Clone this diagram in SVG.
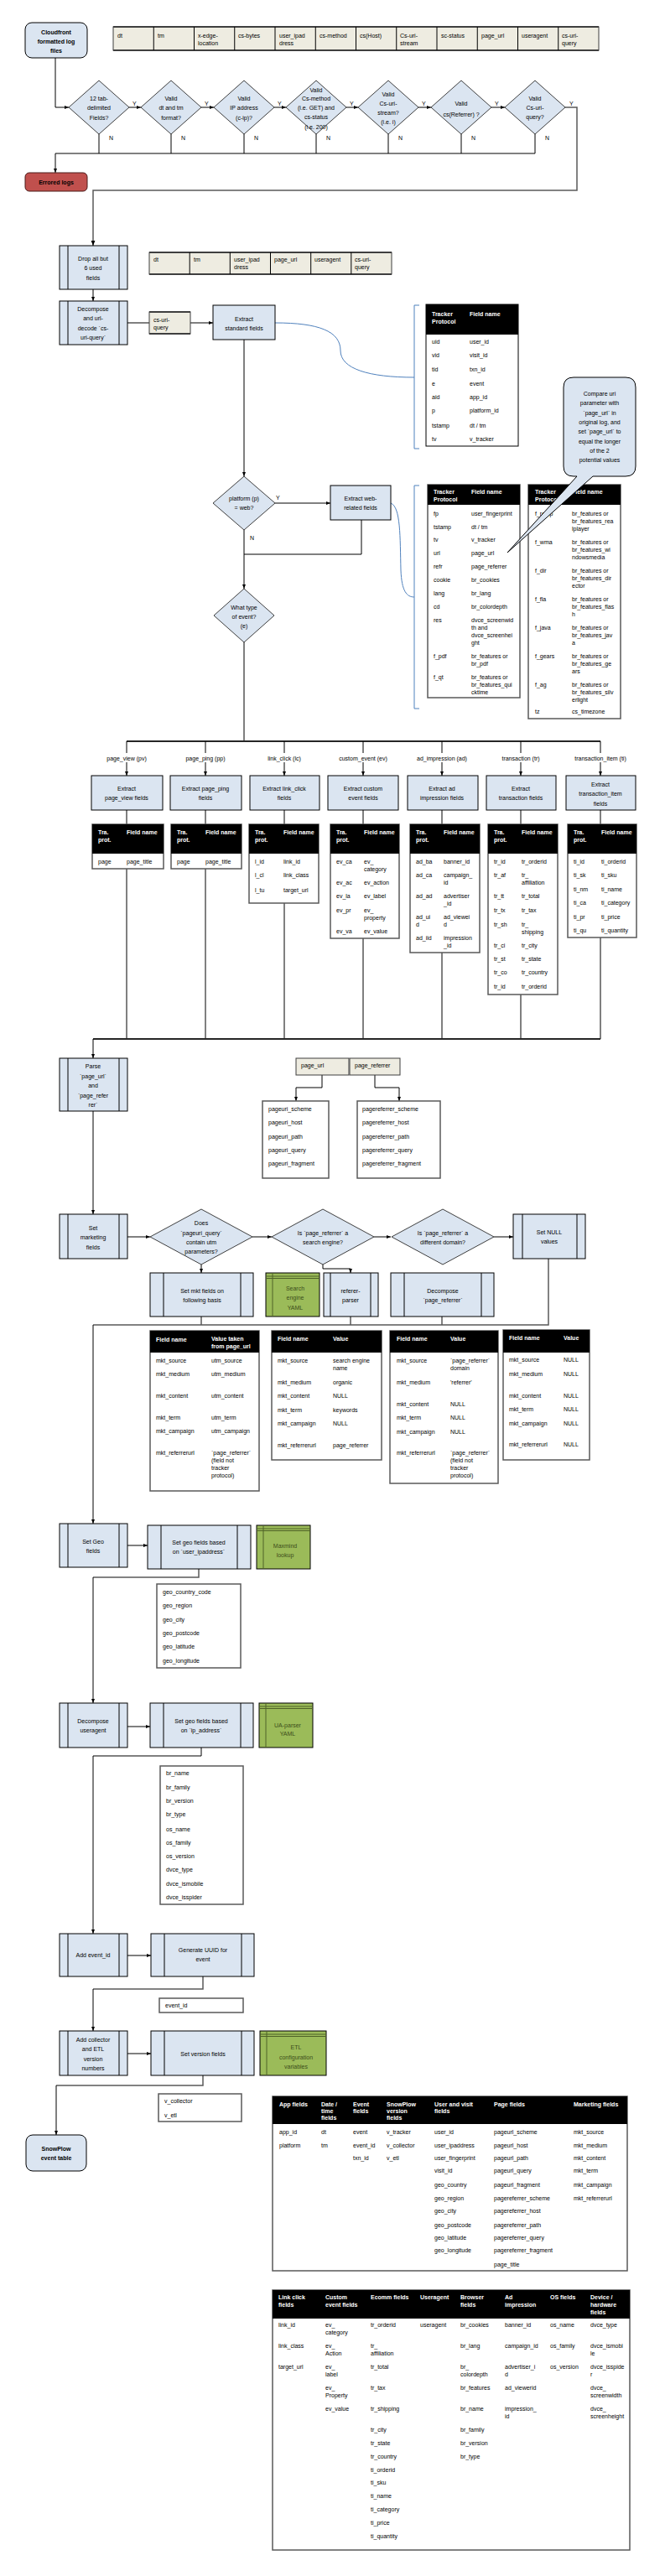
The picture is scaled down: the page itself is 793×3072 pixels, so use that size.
<svg xmlns="http://www.w3.org/2000/svg" width="793" height="3072" viewBox="0 0 793 3072">
<style>
.t{font-family:"Liberation Sans",Arial,sans-serif;font-size:7px;fill:#000;dominant-baseline:central}
.c{text-anchor:middle}
.b{font-weight:bold}
.w{fill:#fff;font-weight:bold}
.g{fill:#3c4d1a}
.box{fill:#dbe5f1;stroke:#000;stroke-width:1}
.dia{fill:#dbe5f1;stroke:#3f3f3f;stroke-width:1}
.side{stroke:#000;stroke-width:1}
.beige{fill:#eeece1;stroke:#3f3f3f;stroke-width:1}
.bord{stroke:#3f3f3f;stroke-width:2}
.grn{fill:#9bbb59;stroke:#000;stroke-width:1}
.stripe{stroke:#4f6228;stroke-width:1}
.tbl{fill:#fff;stroke:#000;stroke-width:1}
.tbl2{fill:#fff;stroke:#595959;stroke-width:1.5}
.hd{fill:#000}
.ln{fill:none;stroke:#000;stroke-width:1}
.lg{fill:none;stroke:#595959;stroke-width:1.5}
.bus{fill:none;stroke:#262626;stroke-width:2}
.blue{fill:none;stroke:#4f81bd;stroke-width:1}
</style>
<defs>
<marker id="ah" viewBox="0 0 10 10" refX="10" refY="5" markerWidth="5" markerHeight="5" orient="auto"><path d="M0,1 L10,5 L0,9 z" fill="#000"/></marker>
<marker id="ahg" viewBox="0 0 10 10" refX="10" refY="5" markerWidth="4" markerHeight="4" orient="auto"><path d="M0,1 L10,5 L0,9 z" fill="#000"/></marker>
</defs>
<rect width="793" height="3072" fill="#fff"/>

<g id="connectors">
<path class="ln" d="M66,69 V128 H82" marker-end="url(#ah)"/>
<path class="ln" d="M154,128 H168" marker-end="url(#ah)"/>
<path class="ln" d="M240,128 H255" marker-end="url(#ah)"/>
<path class="ln" d="M327,128 H341" marker-end="url(#ah)"/>
<path class="ln" d="M413,128 H427" marker-end="url(#ah)"/>
<path class="ln" d="M499,128 H514" marker-end="url(#ah)"/>
<path class="ln" d="M586,128 H602" marker-end="url(#ah)"/>
<path class="ln" d="M118,160 V183 M204,160 V183 M291,160 V183 M377,160 V183 M463,160 V183 M550,160 V183 M638,160 V183 M66,183 H638"/>
<path class="ln" d="M66,183 V206" marker-end="url(#ah)"/>
<path class="lg" d="M674,128 H688 V227 H111 V293" marker-end="url(#ahg)"/>
<path class="ln" d="M111,345 V359" marker-end="url(#ah)"/>
<path class="ln" d="M152,385 H178"/>
<path class="ln" d="M227,385 H254" marker-end="url(#ah)"/>
<path class="ln" d="M291,405 V568" marker-end="url(#ah)"/>
<path class="blue" d="M328,385 C380,385 406,395 406,418 C406,440 440,450 494,450"/>
<path class="blue" d="M500,364 H494 V535 H500"/>
<path class="ln" d="M328,600 H394" marker-end="url(#ah)"/>
<path class="ln" d="M291,632 V702" marker-end="url(#ah)"/>
<path class="ln" d="M431,620 V661 H291"/>
<path class="blue" d="M466,600 C478,605 477,640 478,680 C479,705 485,712 494,712"/>
<path class="blue" d="M500,579 H494 V845 H500"/>
<path class="ln" d="M291,766 V884"/>
<path class="bus" d="M151,884 H716"/>
<path class="ln" d="M151,884 V898 M245,884 V898 M339,884 V898 M433,884 V898 M527,884 V898 M621,884 V898 M716,884 V898"/>
<path class="ln" d="M151,909 V925" marker-end="url(#ah)"/>
<path class="ln" d="M245,909 V925" marker-end="url(#ah)"/>
<path class="ln" d="M339,909 V925" marker-end="url(#ah)"/>
<path class="ln" d="M433,909 V925" marker-end="url(#ah)"/>
<path class="ln" d="M527,909 V925" marker-end="url(#ah)"/>
<path class="ln" d="M621,909 V925" marker-end="url(#ah)"/>
<path class="ln" d="M716,909 V925" marker-end="url(#ah)"/>
<path class="ln" d="M151,966 V983 M245,966 V983 M339,966 V983 M433,966 V983 M527,966 V983 M621,966 V983 M716,966 V983"/>
<path class="ln" d="M151,1036 V1239 M245,1036 V1239 M339,1077 V1239 M433,1119 V1239 M527,1136 V1239 M621,1186 V1239 M716,1118 V1239"/>
<path class="bus" d="M111,1239 H716"/>
<path class="ln" d="M111,1239 V1262" marker-end="url(#ah)"/>
<path class="ln" d="M384,1282 V1297 H353 V1313" marker-end="url(#ah)"/>
<path class="ln" d="M447,1282 V1297 H476 V1313" marker-end="url(#ah)"/>
<path class="ln" d="M111,1325 V1448" marker-end="url(#ah)"/>
<path class="ln" d="M152,1475 H179" marker-end="url(#ah)"/>
<path class="ln" d="M301,1475 H324" marker-end="url(#ah)"/>
<path class="ln" d="M446,1475 H466" marker-end="url(#ah)"/>
<path class="ln" d="M589,1475 H612" marker-end="url(#ah)"/>
<path class="ln" d="M240,1508 V1518" marker-end="url(#ah)"/>
<path class="ln" d="M385,1508 V1513 H418 V1518" marker-end="url(#ah)"/>
<path class="lg" d="M240,1570 V1580 M418,1570 V1580 M527,1570 V1580 M654,1501 V1580 H111"/>
<path class="ln" d="M111,1580 V1817" marker-end="url(#ah)"/>
<path class="ln" d="M152,1843 H176" marker-end="url(#ah)"/>
<path class="lg" d="M237,1871 V1881 H111"/>
<path class="ln" d="M111,1881 V2031" marker-end="url(#ah)"/>
<path class="ln" d="M152,2059 H179" marker-end="url(#ah)"/>
<path class="ln" d="M240,2084 V2094 H111 V2306" marker-end="url(#ah)"/>
<path class="ln" d="M152,2332 H180" marker-end="url(#ah)"/>
<path class="lg" d="M242,2357 V2372 H111"/>
<path class="ln" d="M111,2372 V2422" marker-end="url(#ah)"/>
<path class="ln" d="M152,2449 H180" marker-end="url(#ah)"/>
<path class="lg" d="M242,2475 V2487 H67"/>
<path class="ln" d="M67,2487 V2546" marker-end="url(#ah)"/>
</g>

<g id="labels">
<text class="t" x="158" y="123">Y</text>
<text class="t" x="244" y="123">Y</text>
<text class="t" x="331" y="123">Y</text>
<text class="t" x="417" y="123">Y</text>
<text class="t" x="503" y="123">Y</text>
<text class="t" x="590" y="123">Y</text>
<text class="t" x="679" y="123">Y</text>
<text class="t" x="130" y="164">N</text>
<text class="t" x="216" y="164">N</text>
<text class="t" x="303" y="164">N</text>
<text class="t" x="389" y="164">N</text>
<text class="t" x="475" y="164">N</text>
<text class="t" x="562" y="164">N</text>
<text class="t" x="650" y="164">N</text>
<text class="t" x="329" y="593">Y</text>
<text class="t" x="298" y="641">N</text>
<text class="t c" x="151" y="904">page_view  (pv)</text>
<text class="t c" x="245" y="904">page_ping  (pp)</text>
<text class="t c" x="339" y="904">link_click  (lc)</text>
<text class="t c" x="433" y="904">custom_event  (ev)</text>
<text class="t c" x="527" y="904">ad_impression  (ad)</text>
<text class="t c" x="621" y="904">transaction  (tr)</text>
<text class="t c" x="716" y="904">transaction_item  (ti)</text>
</g>

<g id="cloudfront">
<rect class="box" x="30" y="27" width="74" height="42" rx="8"/>
<text class="t c b" x="67" y="38">Cloudfront</text>
<text class="t c b" x="67" y="49">formatted  log</text>
<text class="t c b" x="67" y="60">files</text>
</g>

<g id="raw-fields">
<rect class="beige" x="135" y="32" width="579" height="28"/>
<path class="bord" d="M135,32 H714 M135,60 H714"/>
<path class="ln" d="M183.25,32 V60 M231.5,32 V60 M279.75,32 V60 M328,32 V60 M376.25,32 V60 M424.5,32 V60 M472.75,32 V60 M521,32 V60 M569.25,32 V60 M617.5,32 V60 M665.75,32 V60"/>
<text class="t" x="140" y="42">dt</text>
<text class="t" x="188" y="42">tm</text>
<text class="t" x="236" y="42">x-edge-</text><text class="t" x="236" y="51">location</text>
<text class="t" x="284" y="42">cs-bytes</text>
<text class="t" x="333" y="42">user_ipad</text><text class="t" x="333" y="51">dress</text>
<text class="t" x="381" y="42">cs-method</text>
<text class="t" x="429" y="42">cs(Host)</text>
<text class="t" x="477" y="42">Cs-uri-</text><text class="t" x="477" y="51">stream</text>
<text class="t" x="526" y="42">sc-status</text>
<text class="t" x="574" y="42">page_url</text>
<text class="t" x="622" y="42">useragent</text>
<text class="t" x="670" y="42">cs-uri-</text><text class="t" x="670" y="51">query</text>
</g>

<g id="check-tab">
<polygon class="dia" points="118,96 154,128 118,160 82,128"/>
<text class="t c" x="118" y="117">12 tab-</text><text class="t c" x="118" y="128">delimited</text><text class="t c" x="118" y="140">Fields?</text>
</g>
<g id="check-dt">
<polygon class="dia" points="204,96 240,128 204,160 168,128"/>
<text class="t c" x="204" y="117">Valid</text><text class="t c" x="204" y="128">dt and tm</text><text class="t c" x="204" y="140">format?</text>
</g>
<g id="check-ip">
<polygon class="dia" points="291,96 327,128 291,160 255,128"/>
<text class="t c" x="291" y="117">Valid</text><text class="t c" x="291" y="128">IP address</text><text class="t c" x="291" y="140">(c-ip)?</text>
</g>
<g id="check-method">
<polygon class="dia" points="377,96 413,128 377,160 341,128"/>
<text class="t c" x="377" y="107">Valid</text><text class="t c" x="377" y="117">Cs-method</text><text class="t c" x="377" y="128">(i.e. GET) and</text><text class="t c" x="377" y="139">cs-status</text><text class="t c" x="377" y="151">(i.e. 200)</text>
</g>
<g id="check-stream">
<polygon class="dia" points="463,96 499,128 463,160 427,128"/>
<text class="t c" x="463" y="112">Valid</text><text class="t c" x="463" y="123">Cs-uri-</text><text class="t c" x="463" y="134">stream?</text><text class="t c" x="463" y="145">(i.e. i)</text>
</g>
<g id="check-referrer">
<polygon class="dia" points="550,96 586,128 550,160 514,128"/>
<text class="t c" x="550" y="123">Valid</text><text class="t c" x="550" y="136">cs(Referrer)  ?</text>
</g>
<g id="check-query">
<polygon class="dia" points="638,96 674,128 638,160 602,128"/>
<text class="t c" x="638" y="117">Valid</text><text class="t c" x="638" y="128">Cs-uri-</text><text class="t c" x="638" y="139">query?</text>
</g>

<g id="errored">
<rect x="30" y="206" width="74" height="22" rx="5" fill="#c0504d" stroke="#4a1a19"/>
<text class="t c b" x="67" y="217">Errored logs</text>
</g>

<g id="drop">
<rect class="box" x="71" y="293" width="81" height="52"/>
<path class="side" d="M81,293 V345 M142,293 V345"/>
<text class="t c" x="111" y="308">Drop all  but</text><text class="t c" x="111" y="319">6 used</text><text class="t c" x="111" y="331">fields</text>
</g>
<g id="used-fields">
<rect class="beige" x="178" y="301" width="289" height="26"/>
<path class="bord" d="M178,301 H467 M178,327 H467"/>
<path class="ln" d="M226.2,301 V327 M274.3,301 V327 M322.5,301 V327 M370.7,301 V327 M418.8,301 V327"/>
<text class="t" x="183" y="309">dt</text>
<text class="t" x="231" y="309">tm</text>
<text class="t" x="279" y="309">user_ipad</text><text class="t" x="279" y="318">dress</text>
<text class="t" x="327" y="309">page_url</text>
<text class="t" x="375" y="309">useragent</text>
<text class="t" x="423" y="309">cs-uri-</text><text class="t" x="423" y="318">query</text>
</g>

<g id="decompose">
<rect class="box" x="71" y="359" width="81" height="52"/>
<path class="side" d="M81,359 V411 M142,359 V411"/>
<text class="t c" x="111" y="368">Decompose</text><text class="t c" x="111" y="379">and url-</text><text class="t c" x="111" y="391">decode `cs-</text><text class="t c" x="111" y="402">uri-query`</text>
</g>
<g id="csuriquery">
<rect class="beige" x="178" y="372" width="49" height="26"/>
<path class="bord" d="M178,372 H227 M178,398 H227"/>
<text class="t" x="183" y="381">cs-uri-</text><text class="t" x="183" y="390">query</text>
</g>
<g id="extract-standard">
<rect class="box" x="254" y="364" width="74" height="41"/>
<text class="t c" x="291" y="380">Extract</text><text class="t c" x="291" y="391">standard fields</text>
</g>

<g id="std-table">
<rect class="tbl" x="508" y="363" width="110" height="169"/>
<rect class="hd" x="508" y="363" width="110" height="36"/>
<text class="t w" x="515" y="374">Tracker</text><text class="t w" x="515" y="383">Protocol</text><text class="t w" x="560" y="374">Field name</text>
<text class="t" x="515" y="407">uid</text><text class="t" x="560" y="407">user_id</text>
<text class="t" x="515" y="423">vid</text><text class="t" x="560" y="423">visit_id</text>
<text class="t" x="515" y="440">tid</text><text class="t" x="560" y="440">txn_id</text>
<text class="t" x="515" y="457">e</text><text class="t" x="560" y="457">event</text>
<text class="t" x="515" y="473">aid</text><text class="t" x="560" y="473">app_id</text>
<text class="t" x="515" y="489">p</text><text class="t" x="560" y="489">platform_id</text>
<text class="t" x="515" y="507">tstamp</text><text class="t" x="560" y="507">dt / tm</text>
<text class="t" x="515" y="523">tv</text><text class="t" x="560" y="523">v_tracker</text>
</g>

<g id="platform">
<polygon class="dia" points="291,568 328,600 291,632 254,600"/>
<text class="t c" x="291" y="594">platform  (p)</text><text class="t c" x="291" y="605">= web?</text>
</g>
<g id="extract-web">
<rect class="box" x="394" y="579" width="72" height="41"/>
<text class="t c" x="430" y="594">Extract  web-</text><text class="t c" x="430" y="605">related  fields</text>
</g>
<g id="event-type">
<polygon class="dia" points="291,702 327,734 291,766 255,734"/>
<text class="t c" x="291" y="724">What type</text><text class="t c" x="291" y="735">of event?</text><text class="t c" x="291" y="746">(e)</text>
</g>

<g id="web-table-1">
<rect class="tbl2" x="510" y="578" width="110" height="254"/>
<rect class="hd" x="510" y="578" width="110" height="24"/>
<text class="t w" x="517" y="586">Tracker</text><text class="t w" x="517" y="595">Protocol</text><text class="t w" x="562" y="586">Field name</text>
<text class="t" x="517" y="612">fp</text><text class="t" x="562" y="612">user_fingerprint</text>
<text class="t" x="517" y="628">tstamp</text><text class="t" x="562" y="628">dt / tm</text>
<text class="t" x="517" y="643">tv</text><text class="t" x="562" y="643">v_tracker</text>
<text class="t" x="517" y="659">url</text><text class="t" x="562" y="659">page_url</text>
<text class="t" x="517" y="675">refr</text><text class="t" x="562" y="675">page_referrer</text>
<text class="t" x="517" y="691">cookie</text><text class="t" x="562" y="691">br_cookies</text>
<text class="t" x="517" y="707">lang</text><text class="t" x="562" y="707">br_lang</text>
<text class="t" x="517" y="723">cd</text><text class="t" x="562" y="723">br_colordepth</text>
<text class="t" x="517" y="739">res</text><text class="t" x="562" y="739">dvce_screenwid</text><text class="t" x="562" y="748">th and</text><text class="t" x="562" y="757">dvce_screenhei</text><text class="t" x="562" y="766">ght</text>
<text class="t" x="517" y="782">f_pdf</text><text class="t" x="562" y="782">br_features or</text><text class="t" x="562" y="791">br_pdf</text>
<text class="t" x="517" y="807">f_qt</text><text class="t" x="562" y="807">br_features or</text><text class="t" x="562" y="816">br_features_qui</text><text class="t" x="562" y="825">cktime</text>
</g>

<g id="web-table-2">
<rect class="tbl2" x="630" y="578" width="110" height="279"/>
<rect class="hd" x="630" y="578" width="110" height="24"/>
<text class="t w" x="638" y="586">Tracker</text><text class="t w" x="638" y="595">Protocol</text><text class="t w" x="682" y="586">Field name</text>
<text class="t" x="638" y="612">f_realp</text><text class="t" x="682" y="612">br_features or</text><text class="t" x="682" y="621">br_features_rea</text><text class="t" x="682" y="630">lplayer</text>
<text class="t" x="638" y="646">f_wma</text><text class="t" x="682" y="646">br_features or</text><text class="t" x="682" y="655">br_features_wi</text><text class="t" x="682" y="664">ndowsmedia</text>
<text class="t" x="638" y="680">f_dir</text><text class="t" x="682" y="680">br_features or</text><text class="t" x="682" y="689">br_features_dir</text><text class="t" x="682" y="698">ector</text>
<text class="t" x="638" y="714">f_fla</text><text class="t" x="682" y="714">br_features or</text><text class="t" x="682" y="723">br_features_flas</text><text class="t" x="682" y="732">h</text>
<text class="t" x="638" y="748">f_java</text><text class="t" x="682" y="748">br_features or</text><text class="t" x="682" y="757">br_features_jav</text><text class="t" x="682" y="766">a</text>
<text class="t" x="638" y="782">f_gears</text><text class="t" x="682" y="782">br_features or</text><text class="t" x="682" y="791">br_features_ge</text><text class="t" x="682" y="800">ars</text>
<text class="t" x="638" y="816">f_ag</text><text class="t" x="682" y="816">br_features or</text><text class="t" x="682" y="825">br_features_silv</text><text class="t" x="682" y="834">erlight</text>
<text class="t" x="638" y="848">tz</text><text class="t" x="682" y="848">cs_timezone</text>
</g>

<g id="callout">
<path class="box" d="M684,450 H746 Q758,450 758,462 V556 Q758,568 746,568 H707 L605,659 L688,568 H684 Q672,568 672,556 V462 Q672,450 684,450 Z"/>
<text class="t c" x="715" y="469">Compare uri</text>
<text class="t c" x="715" y="480">parameter  with</text>
<text class="t c" x="715" y="492">`page_url`  in</text>
<text class="t c" x="715" y="503">original log, and</text>
<text class="t c" x="715" y="514">set `page_url` to</text>
<text class="t c" x="715" y="526">equal the longer</text>
<text class="t c" x="715" y="537">of the 2</text>
<text class="t c" x="715" y="548">potential values</text>
</g>

<g id="extract-pv">
<rect class="box" x="109" y="925" width="85" height="41"/>
<text class="t c" x="151" y="940">Extract</text><text class="t c" x="151" y="951">page_view  fields</text>
</g>
<g id="extract-pp">
<rect class="box" x="203" y="925" width="85" height="41"/>
<text class="t c" x="245" y="940">Extract page_ping</text><text class="t c" x="245" y="951">fields</text>
</g>
<g id="extract-lc">
<rect class="box" x="298" y="925" width="83" height="41"/>
<text class="t c" x="339" y="940">Extract link_click</text><text class="t c" x="339" y="951">fields</text>
</g>
<g id="extract-ev">
<rect class="box" x="391" y="925" width="84" height="41"/>
<text class="t c" x="433" y="940">Extract custom</text><text class="t c" x="433" y="951">event fields</text>
</g>
<g id="extract-ad">
<rect class="box" x="486" y="925" width="84" height="41"/>
<text class="t c" x="527" y="940">Extract ad</text><text class="t c" x="527" y="951">impression fields</text>
</g>
<g id="extract-tr">
<rect class="box" x="580" y="925" width="83" height="41"/>
<text class="t c" x="621" y="940">Extract</text><text class="t c" x="621" y="951">transaction fields</text>
</g>
<g id="extract-ti">
<rect class="box" x="675" y="925" width="83" height="41"/>
<text class="t c" x="716" y="935">Extract</text><text class="t c" x="716" y="946">transaction_item</text><text class="t c" x="716" y="958">fields</text>
</g>

<g id="pv-table">
<rect class="tbl2" x="110" y="983" width="85" height="53"/>
<rect class="hd" x="110" y="983" width="85" height="35"/>
<text class="t w" x="117" y="992">Tra.</text><text class="t w" x="117" y="1001">prot.</text><text class="t w" x="151" y="992">Field name</text>
<text class="t" x="117" y="1027">page</text><text class="t" x="151" y="1027">page_title</text>
</g>
<g id="pp-table">
<rect class="tbl2" x="204" y="983" width="84" height="53"/>
<rect class="hd" x="204" y="983" width="84" height="35"/>
<text class="t w" x="211" y="992">Tra.</text><text class="t w" x="211" y="1001">prot.</text><text class="t w" x="245" y="992">Field name</text>
<text class="t" x="211" y="1027">page</text><text class="t" x="245" y="1027">page_title</text>
</g>
<g id="lc-table">
<rect class="tbl2" x="297" y="983" width="83" height="94"/>
<rect class="hd" x="297" y="983" width="83" height="35"/>
<text class="t w" x="304" y="992">Tra.</text><text class="t w" x="304" y="1001">prot.</text><text class="t w" x="338" y="992">Field name</text>
<text class="t" x="304" y="1027">l_id</text><text class="t" x="338" y="1027">link_id</text>
<text class="t" x="304" y="1043">l_cl</text><text class="t" x="338" y="1043">link_class</text>
<text class="t" x="304" y="1061">l_tu</text><text class="t" x="338" y="1061">target_url</text>
</g>
<g id="ev-table">
<rect class="tbl2" x="394" y="983" width="82" height="136"/>
<rect class="hd" x="394" y="983" width="82" height="35"/>
<text class="t w" x="401" y="992">Tra.</text><text class="t w" x="401" y="1001">prot.</text><text class="t w" x="434" y="992">Field name</text>
<text class="t" x="401" y="1027">ev_ca</text><text class="t" x="434" y="1027">ev_</text><text class="t" x="434" y="1036">category</text>
<text class="t" x="401" y="1052">ev_ac</text><text class="t" x="434" y="1052">ev_action</text>
<text class="t" x="401" y="1068">ev_la</text><text class="t" x="434" y="1068">ev_label</text>
<text class="t" x="401" y="1085">ev_pr</text><text class="t" x="434" y="1085">ev_</text><text class="t" x="434" y="1094">property</text>
<text class="t" x="401" y="1110">ev_va</text><text class="t" x="434" y="1110">ev_value</text>
</g>
<g id="ad-table">
<rect class="tbl2" x="489" y="983" width="83" height="153"/>
<rect class="hd" x="489" y="983" width="83" height="35"/>
<text class="t w" x="496" y="992">Tra.</text><text class="t w" x="496" y="1001">prot.</text><text class="t w" x="529" y="992">Field name</text>
<text class="t" x="496" y="1027">ad_ba</text><text class="t" x="529" y="1027">banner_id</text>
<text class="t" x="496" y="1043">ad_ca</text><text class="t" x="529" y="1043">campaign_</text><text class="t" x="529" y="1052">id</text>
<text class="t" x="496" y="1068">ad_ad</text><text class="t" x="529" y="1068">advertiser</text><text class="t" x="529" y="1077">_id</text>
<text class="t" x="496" y="1093">ad_ui</text><text class="t" x="496" y="1102">d</text><text class="t" x="529" y="1093">ad_viewei</text><text class="t" x="529" y="1102">d</text>
<text class="t" x="496" y="1118">ad_iid</text><text class="t" x="529" y="1118">impression</text><text class="t" x="529" y="1127">_id</text>
</g>
<g id="tr-table">
<rect class="tbl2" x="582" y="983" width="83" height="203"/>
<rect class="hd" x="582" y="983" width="83" height="35"/>
<text class="t w" x="589" y="992">Tra.</text><text class="t w" x="589" y="1001">prot.</text><text class="t w" x="622" y="992">Field name</text>
<text class="t" x="589" y="1027">tr_id</text><text class="t" x="622" y="1027">tr_orderid</text>
<text class="t" x="589" y="1043">tr_af</text><text class="t" x="622" y="1043">tr_</text><text class="t" x="622" y="1052">affiliation</text>
<text class="t" x="589" y="1068">tr_tt</text><text class="t" x="622" y="1068">tr_total</text>
<text class="t" x="589" y="1085">tr_tx</text><text class="t" x="622" y="1085">tr_tax</text>
<text class="t" x="589" y="1102">tr_sh</text><text class="t" x="622" y="1102">tr_</text><text class="t" x="622" y="1111">shipping</text>
<text class="t" x="589" y="1127">tr_ci</text><text class="t" x="622" y="1127">tr_city</text>
<text class="t" x="589" y="1143">tr_st</text><text class="t" x="622" y="1143">tr_state</text>
<text class="t" x="589" y="1159">tr_co</text><text class="t" x="622" y="1159">tr_country</text>
<text class="t" x="589" y="1176">tr_id</text><text class="t" x="622" y="1176">tr_orderid</text>
</g>
<g id="ti-table">
<rect class="tbl2" x="677" y="983" width="82" height="135"/>
<rect class="hd" x="677" y="983" width="82" height="35"/>
<text class="t w" x="684" y="992">Tra.</text><text class="t w" x="684" y="1001">prot.</text><text class="t w" x="717" y="992">Field name</text>
<text class="t" x="684" y="1027">ti_id</text><text class="t" x="717" y="1027">ti_orderid</text>
<text class="t" x="684" y="1043">ti_sk</text><text class="t" x="717" y="1043">ti_sku</text>
<text class="t" x="684" y="1060">ti_nm</text><text class="t" x="717" y="1060">ti_name</text>
<text class="t" x="684" y="1076">ti_ca</text><text class="t" x="717" y="1076">ti_category</text>
<text class="t" x="684" y="1093">ti_pr</text><text class="t" x="717" y="1093">ti_price</text>
<text class="t" x="684" y="1109">ti_qu</text><text class="t" x="717" y="1109">ti_quantity</text>
</g>

<g id="parse">
<rect class="box" x="71" y="1262" width="81" height="63"/>
<path class="side" d="M81,1262 V1325 M142,1262 V1325"/>
<text class="t c" x="111" y="1271">Parse</text><text class="t c" x="111" y="1283">`page_url`</text><text class="t c" x="111" y="1294">and</text><text class="t c" x="111" y="1306">`page_refer</text><text class="t c" x="111" y="1317">rer`</text>
</g>
<g id="page-url-field">
<rect class="beige" x="353" y="1262" width="63" height="20"/>
<text class="t" x="359" y="1270">page_url</text>
</g>
<g id="page-referrer-field">
<rect class="beige" x="417" y="1262" width="60" height="20"/>
<text class="t" x="423" y="1270">page_referrer</text>
</g>
<g id="pageurl-list">
<rect class="tbl2" x="313" y="1313" width="79" height="92"/>
<text class="t" x="320" y="1322">pageuri_scheme</text>
<text class="t" x="320" y="1338">pageuri_host</text>
<text class="t" x="320" y="1355">pageuri_path</text>
<text class="t" x="320" y="1371">pageuri_query</text>
<text class="t" x="320" y="1387">pageuri_fragment</text>
</g>
<g id="pagereferrer-list">
<rect class="tbl2" x="426" y="1313" width="99" height="92"/>
<text class="t" x="432" y="1322">pagereferrer_scheme</text>
<text class="t" x="432" y="1338">pagereferrer_host</text>
<text class="t" x="432" y="1355">pagereferrer_path</text>
<text class="t" x="432" y="1371">pagereferrer_query</text>
<text class="t" x="432" y="1387">pagereferrer_fragment</text>
</g>

<g id="set-marketing">
<rect class="box" x="71" y="1448" width="81" height="53"/>
<path class="side" d="M81,1448 V1501 M142,1448 V1501"/>
<text class="t c" x="111" y="1464">Set</text><text class="t c" x="111" y="1475">marketing</text><text class="t c" x="111" y="1487">fields</text>
</g>
<g id="utm-check">
<polygon class="dia" points="240,1442 301,1475 240,1508 179,1475"/>
<text class="t c" x="240" y="1458">Does</text><text class="t c" x="240" y="1470">`pageuri_query`</text><text class="t c" x="240" y="1481">contain utm</text><text class="t c" x="240" y="1492">parameters?</text>
</g>
<g id="search-check">
<polygon class="dia" points="385,1442 446,1475 385,1508 324,1475"/>
<text class="t c" x="385" y="1470">Is `page_referrer`  a</text><text class="t c" x="385" y="1481">search engine?</text>
</g>
<g id="domain-check">
<polygon class="dia" points="528,1442 589,1475 528,1508 467,1475"/>
<text class="t c" x="528" y="1470">Is `page_referrer`  a</text><text class="t c" x="528" y="1481">different  domain?</text>
</g>
<g id="set-null">
<rect class="box" x="612" y="1448" width="86" height="53"/>
<path class="side" d="M623,1448 V1501 M688,1448 V1501"/>
<text class="t c" x="655" y="1469">Set NULL</text><text class="t c" x="655" y="1480">values</text>
</g>
<g id="set-mkt">
<rect class="box" x="179" y="1518" width="123" height="52"/>
<path class="side" d="M195,1518 V1570 M287,1518 V1570"/>
<text class="t c" x="241" y="1539">Set mkt  fields on</text><text class="t c" x="241" y="1550">following basis</text>
</g>
<g id="search-yaml">
<rect class="grn" x="317" y="1518" width="64" height="52"/>
<path class="stripe" d="M317,1522 H381 M317,1524.5 H381 M325,1518 V1570"/>
<text class="t c g" x="352" y="1536">Search</text><text class="t c g" x="352" y="1547">engine</text><text class="t c g" x="352" y="1559">YAML</text>
</g>
<g id="referer-parser">
<rect class="box" x="386" y="1518" width="65" height="52"/>
<path class="side" d="M394,1518 V1570 M442,1518 V1570"/>
<text class="t c" x="418" y="1539">referer-</text><text class="t c" x="418" y="1550">parser</text>
</g>
<g id="decompose-referrer">
<rect class="box" x="466" y="1518" width="123" height="52"/>
<path class="side" d="M482,1518 V1570 M574,1518 V1570"/>
<text class="t c" x="528" y="1539">Decompose</text><text class="t c" x="528" y="1550">`page_referrer`</text>
</g>

<g id="mkt-table-utm">
<rect class="tbl2" x="179" y="1587" width="130" height="191"/>
<rect class="hd" x="179" y="1587" width="130" height="26"/>
<text class="t w" x="186" y="1597">Field name</text><text class="t w" x="252" y="1596">Value taken</text><text class="t w" x="252" y="1605">from page_url</text>
<text class="t" x="186" y="1622">mkt_source</text><text class="t" x="252" y="1622">utm_source</text>
<text class="t" x="186" y="1638">mkt_medium</text><text class="t" x="252" y="1638">utm_medium</text>
<text class="t" x="186" y="1664">mkt_content</text><text class="t" x="252" y="1664">utm_content</text>
<text class="t" x="186" y="1690">mkt_term</text><text class="t" x="252" y="1690">utm_term</text>
<text class="t" x="186" y="1706">mkt_campaign</text><text class="t" x="252" y="1706">utm_campaign</text>
<text class="t" x="186" y="1732">mkt_referrerurl</text><text class="t" x="252" y="1732">`page_referrer`</text><text class="t" x="252" y="1741">(field not</text><text class="t" x="252" y="1750">tracker</text><text class="t" x="252" y="1759">protocol)</text>
</g>
<g id="mkt-table-search">
<rect class="tbl2" x="324" y="1587" width="131" height="154"/>
<rect class="hd" x="324" y="1587" width="131" height="26"/>
<text class="t w" x="331" y="1596">Field name</text><text class="t w" x="397" y="1596">Value</text>
<text class="t" x="331" y="1622">mkt_source</text><text class="t" x="397" y="1622">search engine</text><text class="t" x="397" y="1631">name</text>
<text class="t" x="331" y="1648">mkt_medium</text><text class="t" x="397" y="1648">organic</text>
<text class="t" x="331" y="1664">mkt_content</text><text class="t" x="397" y="1664">NULL</text>
<text class="t" x="331" y="1681">mkt_term</text><text class="t" x="397" y="1681">keywords</text>
<text class="t" x="331" y="1697">mkt_campaign</text><text class="t" x="397" y="1697">NULL</text>
<text class="t" x="331" y="1723">mkt_referrerurl</text><text class="t" x="397" y="1723">page_referrer</text>
</g>
<g id="mkt-table-referrer">
<rect class="tbl2" x="465" y="1587" width="129" height="182"/>
<rect class="hd" x="465" y="1587" width="129" height="26"/>
<text class="t w" x="473" y="1596">Field name</text><text class="t w" x="537" y="1596">Value</text>
<text class="t" x="473" y="1622">mkt_source</text><text class="t" x="537" y="1622">`page_referrer`</text><text class="t" x="537" y="1631">domain</text>
<text class="t" x="473" y="1648">mkt_medium</text><text class="t" x="537" y="1648">'referrer'</text>
<text class="t" x="473" y="1674">mkt_content</text><text class="t" x="537" y="1674">NULL</text>
<text class="t" x="473" y="1690">mkt_term</text><text class="t" x="537" y="1690">NULL</text>
<text class="t" x="473" y="1707">mkt_campaign</text><text class="t" x="537" y="1707">NULL</text>
<text class="t" x="473" y="1732">mkt_referrerurl</text><text class="t" x="537" y="1732">`page_referrer`</text><text class="t" x="537" y="1741">(field not</text><text class="t" x="537" y="1750">tracker</text><text class="t" x="537" y="1759">protocol)</text>
</g>
<g id="mkt-table-null">
<rect class="tbl2" x="600" y="1586" width="103" height="155"/>
<rect class="hd" x="600" y="1586" width="103" height="27"/>
<text class="t w" x="607" y="1595">Field name</text><text class="t w" x="672" y="1595">Value</text>
<text class="t" x="607" y="1621">mkt_source</text><text class="t" x="672" y="1621">NULL</text>
<text class="t" x="607" y="1638">mkt_medium</text><text class="t" x="672" y="1638">NULL</text>
<text class="t" x="607" y="1664">mkt_content</text><text class="t" x="672" y="1664">NULL</text>
<text class="t" x="607" y="1680">mkt_term</text><text class="t" x="672" y="1680">NULL</text>
<text class="t" x="607" y="1697">mkt_campaign</text><text class="t" x="672" y="1697">NULL</text>
<text class="t" x="607" y="1722">mkt_referrerurl</text><text class="t" x="672" y="1722">NULL</text>
</g>

<g id="set-geo">
<rect class="box" x="71" y="1817" width="81" height="52"/>
<path class="side" d="M81,1817 V1869 M142,1817 V1869"/>
<text class="t c" x="111" y="1838">Set Geo</text><text class="t c" x="111" y="1849">fields</text>
</g>
<g id="geo-fields">
<rect class="box" x="176" y="1819" width="123" height="52"/>
<path class="side" d="M192,1819 V1871 M283,1819 V1871"/>
<text class="t c" x="237" y="1839">Set geo  fields based</text><text class="t c" x="237" y="1850">on `user_ipaddress`</text>
</g>
<g id="maxmind">
<rect class="grn" x="306" y="1819" width="64" height="52"/>
<path class="stripe" d="M306,1823 H370 M306,1825.5 H370 M314,1819 V1871"/>
<text class="t c g" x="340" y="1843">Maxmind</text><text class="t c g" x="340" y="1854">lookup</text>
</g>
<g id="geo-list">
<rect class="tbl2" x="187" y="1889" width="100" height="100"/>
<text class="t" x="194" y="1898">geo_country_code</text>
<text class="t" x="194" y="1914">geo_region</text>
<text class="t" x="194" y="1931">geo_city</text>
<text class="t" x="194" y="1947">geo_postcode</text>
<text class="t" x="194" y="1963">geo_latitude</text>
<text class="t" x="194" y="1980">geo_longitude</text>
</g>

<g id="decompose-ua">
<rect class="box" x="71" y="2031" width="81" height="53"/>
<path class="side" d="M81,2031 V2084 M142,2031 V2084"/>
<text class="t c" x="111" y="2052">Decompose</text><text class="t c" x="111" y="2063">useragent</text>
</g>
<g id="ua-fields">
<rect class="box" x="179" y="2031" width="123" height="53"/>
<path class="side" d="M195,2031 V2084 M287,2031 V2084"/>
<text class="t c" x="240" y="2052">Set geo  fields based</text><text class="t c" x="240" y="2063">on `ip_address`</text>
</g>
<g id="ua-parser">
<rect class="grn" x="309" y="2031" width="64" height="53"/>
<path class="stripe" d="M309,2035 H373 M309,2037.5 H373 M317,2031 V2084"/>
<text class="t c g" x="343" y="2057">UA-parser</text><text class="t c g" x="343" y="2067">YAML</text>
</g>
<g id="ua-list">
<rect class="tbl2" x="191" y="2106" width="99" height="165"/>
<text class="t" x="198" y="2114">br_name</text>
<text class="t" x="198" y="2131">br_family</text>
<text class="t" x="198" y="2147">br_version</text>
<text class="t" x="198" y="2163">br_type</text>
<text class="t" x="198" y="2181">os_name</text>
<text class="t" x="198" y="2197">os_family</text>
<text class="t" x="198" y="2213">os_version</text>
<text class="t" x="198" y="2229">dvce_type</text>
<text class="t" x="198" y="2246">dvce_ismobile</text>
<text class="t" x="198" y="2262">dvce_isspider</text>
</g>

<g id="add-event-id">
<rect class="box" x="71" y="2306" width="81" height="51"/>
<path class="side" d="M81,2306 V2357 M142,2306 V2357"/>
<text class="t c" x="111" y="2331">Add event_id</text>
</g>
<g id="generate-uuid">
<rect class="box" x="180" y="2306" width="123" height="51"/>
<path class="side" d="M196,2306 V2357 M288,2306 V2357"/>
<text class="t c" x="242" y="2325">Generate  UUID for</text><text class="t c" x="242" y="2336">event</text>
</g>
<g id="event-id-field">
<rect class="tbl2" x="190" y="2383" width="100" height="17"/>
<text class="t" x="197" y="2391">event_id</text>
</g>

<g id="add-collector">
<rect class="box" x="71" y="2422" width="81" height="53"/>
<path class="side" d="M81,2422 V2475 M142,2422 V2475"/>
<text class="t c" x="111" y="2432">Add collector</text><text class="t c" x="111" y="2443">and ETL</text><text class="t c" x="111" y="2455">version</text><text class="t c" x="111" y="2466">numbers</text>
</g>
<g id="set-version">
<rect class="box" x="180" y="2422" width="123" height="53"/>
<path class="side" d="M196,2422 V2475 M288,2422 V2475"/>
<text class="t c" x="242" y="2449">Set version  fields</text>
</g>
<g id="etl-config">
<rect class="grn" x="310" y="2422" width="79" height="53"/>
<path class="stripe" d="M310,2426 H389 M310,2428.5 H389 M318,2422 V2475"/>
<text class="t c g" x="353" y="2441">ETL</text><text class="t c g" x="353" y="2453">configuration</text><text class="t c g" x="353" y="2464">variables</text>
</g>
<g id="version-list">
<rect class="tbl2" x="189" y="2497" width="99" height="33"/>
<text class="t" x="196" y="2505">v_collector</text>
<text class="t" x="196" y="2522">v_etl</text>
</g>

<g id="snowplow-table">
<rect class="box" x="31" y="2546" width="72" height="43" rx="8"/>
<text class="t c b" x="67" y="2562">SnowPlow</text><text class="t c b" x="67" y="2573">event table</text>
</g>

<g id="output-table-1">
<rect class="tbl2" x="325" y="2500" width="423" height="208"/>
<rect class="hd" x="325" y="2500" width="423" height="33"/>
<text class="t w" x="333" y="2509">App fields</text>
<text class="t w" x="383" y="2509">Date /</text><text class="t w" x="383" y="2517">time</text><text class="t w" x="383" y="2525">fields</text>
<text class="t w" x="421" y="2509">Event</text><text class="t w" x="421" y="2517">fields</text>
<text class="t w" x="461" y="2509">SnowPlow</text><text class="t w" x="461" y="2517">version</text><text class="t w" x="461" y="2525">fields</text>
<text class="t w" x="518" y="2509">User and visit</text><text class="t w" x="518" y="2517">fields</text>
<text class="t w" x="589" y="2509">Page fields</text>
<text class="t w" x="684" y="2509">Marketing fields</text>
<text class="t" x="333" y="2542">app_id</text><text class="t" x="333" y="2558">platform</text>
<text class="t" x="383" y="2542">dt</text><text class="t" x="383" y="2558">tm</text>
<text class="t" x="421" y="2542">event</text><text class="t" x="421" y="2558">event_id</text><text class="t" x="421" y="2573">txn_id</text>
<text class="t" x="461" y="2542">v_tracker</text><text class="t" x="461" y="2558">v_collector</text><text class="t" x="461" y="2573">v_etl</text>
<text class="t" x="518" y="2542">user_id</text><text class="t" x="518" y="2558">user_ipaddress</text><text class="t" x="518" y="2573">user_fingerprint</text><text class="t" x="518" y="2588">visit_id</text><text class="t" x="518" y="2605">geo_country</text><text class="t" x="518" y="2621">geo_region</text><text class="t" x="518" y="2636">geo_city</text><text class="t" x="518" y="2653">geo_postcode</text><text class="t" x="518" y="2668">geo_latitude</text><text class="t" x="518" y="2683">geo_longitude</text>
<text class="t" x="589" y="2542">pageurl_scheme</text><text class="t" x="589" y="2558">pageurl_host</text><text class="t" x="589" y="2573">pageurl_path</text><text class="t" x="589" y="2588">pageurl_query</text><text class="t" x="589" y="2605">pageurl_fragment</text><text class="t" x="589" y="2621">pagereferrer_scheme</text><text class="t" x="589" y="2636">pagereferrer_host</text><text class="t" x="589" y="2653">pagereferrer_path</text><text class="t" x="589" y="2668">pagereferrer_query</text><text class="t" x="589" y="2683">pagereferrer_fragment</text><text class="t" x="589" y="2700">page_title</text>
<text class="t" x="684" y="2542">mkt_source</text><text class="t" x="684" y="2558">mkt_medium</text><text class="t" x="684" y="2573">mkt_content</text><text class="t" x="684" y="2588">mkt_term</text><text class="t" x="684" y="2605">mkt_campaign</text><text class="t" x="684" y="2621">mkt_referrerurl</text>
</g>

<g id="output-table-2">
<rect class="tbl2" x="325" y="2731" width="426" height="310"/>
<rect class="hd" x="325" y="2731" width="426" height="34"/>
<text class="t w" x="332" y="2739">Link click</text><text class="t w" x="332" y="2748">fields</text>
<text class="t w" x="388" y="2739">Custom</text><text class="t w" x="388" y="2748">event fields</text>
<text class="t w" x="442" y="2739">Ecomm fields</text>
<text class="t w" x="501" y="2739">Useragent</text>
<text class="t w" x="549" y="2739">Browser</text><text class="t w" x="549" y="2748">fields</text>
<text class="t w" x="602" y="2739">Ad</text><text class="t w" x="602" y="2748">impression</text>
<text class="t w" x="656" y="2739">OS fields</text>
<text class="t w" x="704" y="2739">Device /</text><text class="t w" x="704" y="2748">hardware</text><text class="t w" x="704" y="2757">fields</text>
<text class="t" x="332" y="2772">link_id</text><text class="t" x="332" y="2797">link_class</text><text class="t" x="332" y="2822">target_url</text>
<text class="t" x="388" y="2772">ev_</text><text class="t" x="388" y="2781">category</text>
<text class="t" x="388" y="2797">ev_</text><text class="t" x="388" y="2806">Action</text>
<text class="t" x="388" y="2822">ev_</text><text class="t" x="388" y="2831">label</text>
<text class="t" x="388" y="2847">ev_</text><text class="t" x="388" y="2856">Property</text>
<text class="t" x="388" y="2872">ev_value</text>
<text class="t" x="442" y="2772">tr_orderid</text>
<text class="t" x="442" y="2797">tr_</text><text class="t" x="442" y="2806">affiliation</text>
<text class="t" x="442" y="2822">tr_total</text>
<text class="t" x="442" y="2847">tr_tax</text>
<text class="t" x="442" y="2872">tr_shipping</text>
<text class="t" x="442" y="2897">tr_city</text>
<text class="t" x="442" y="2913">tr_state</text>
<text class="t" x="442" y="2929">tr_country</text>
<text class="t" x="442" y="2945">ti_orderid</text>
<text class="t" x="442" y="2960">ti_sku</text>
<text class="t" x="442" y="2976">ti_name</text>
<text class="t" x="442" y="2992">ti_category</text>
<text class="t" x="442" y="3008">ti_price</text>
<text class="t" x="442" y="3024">ti_quantity</text>
<text class="t" x="501" y="2772">useragent</text>
<text class="t" x="549" y="2772">br_cookies</text>
<text class="t" x="549" y="2797">br_lang</text>
<text class="t" x="549" y="2822">br_</text><text class="t" x="549" y="2831">colordepth</text>
<text class="t" x="549" y="2847">br_features</text>
<text class="t" x="549" y="2872">br_name</text>
<text class="t" x="549" y="2897">br_family</text>
<text class="t" x="549" y="2913">br_version</text>
<text class="t" x="549" y="2929">br_type</text>
<text class="t" x="602" y="2772">banner_id</text>
<text class="t" x="602" y="2797">campaign_id</text>
<text class="t" x="602" y="2822">advertiser_i</text><text class="t" x="602" y="2831">d</text>
<text class="t" x="602" y="2847">ad_viewerid</text>
<text class="t" x="602" y="2872">impression_</text><text class="t" x="602" y="2881">id</text>
<text class="t" x="656" y="2772">os_name</text>
<text class="t" x="656" y="2797">os_family</text>
<text class="t" x="656" y="2822">os_version</text>
<text class="t" x="704" y="2772">dvce_type</text>
<text class="t" x="704" y="2797">dvce_ismobi</text><text class="t" x="704" y="2806">le</text>
<text class="t" x="704" y="2822">dvce_isspide</text><text class="t" x="704" y="2831">r</text>
<text class="t" x="704" y="2847">dvce_</text><text class="t" x="704" y="2856">screenwidth</text>
<text class="t" x="704" y="2872">dvce_</text><text class="t" x="704" y="2881">screenheight</text>
</g>
</svg>
